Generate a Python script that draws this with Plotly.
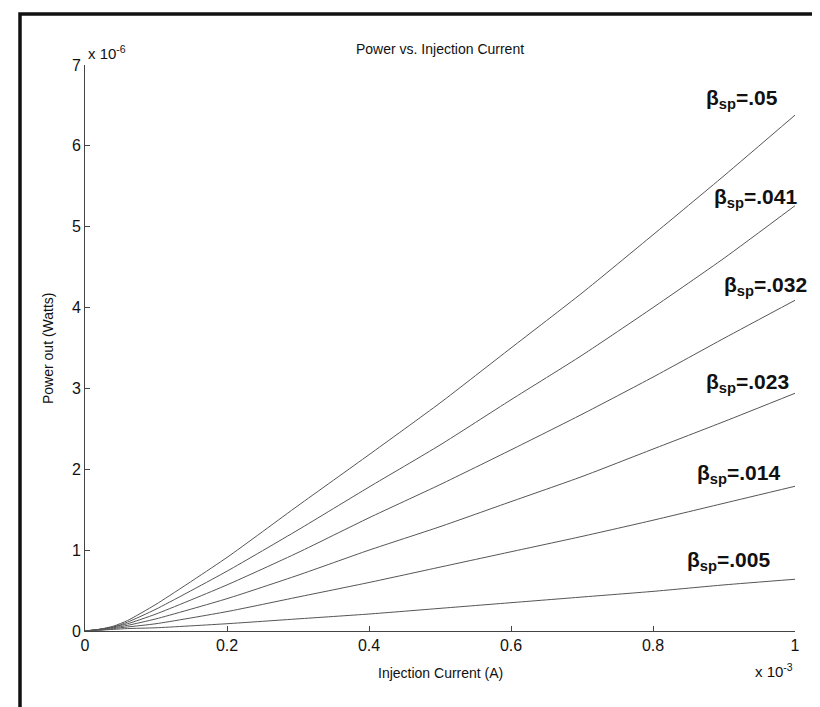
import plotly.graph_objects as go

# Injection current (units of 1e-3 A)
current = [0, 0.02, 0.04, 0.06, 0.1, 0.2, 0.3, 0.4, 0.5, 0.6, 0.7, 0.8, 0.9, 1.0]

# Power out (units of 1e-6 W) per beta_sp
beta_labels = [".05", ".041", ".032", ".023", ".014", ".005"]
power_b050 = [0, 0.02, 0.06, 0.13, 0.33, 0.91, 1.55, 2.18, 2.82, 3.50, 4.18, 4.90, 5.63, 6.38]
power_b041 = [0, 0.02, 0.05, 0.11, 0.27, 0.74, 1.25, 1.78, 2.30, 2.86, 3.41, 4.00, 4.61, 5.26]
power_b032 = [0, 0.02, 0.05, 0.09, 0.21, 0.57, 0.97, 1.40, 1.81, 2.24, 2.68, 3.14, 3.62, 4.09]
power_b023 = [0, 0.02, 0.04, 0.07, 0.15, 0.40, 0.69, 1.00, 1.29, 1.60, 1.91, 2.25, 2.59, 2.94]
power_b014 = [0, 0.01, 0.03, 0.05, 0.09, 0.24, 0.42, 0.60, 0.79, 0.98, 1.17, 1.37, 1.58, 1.79]
power_b005 = [0, 0.01, 0.02, 0.03, 0.04, 0.09, 0.15, 0.21, 0.28, 0.35, 0.42, 0.49, 0.57, 0.64]
series = [power_b050, power_b041, power_b032, power_b023, power_b014, power_b005]

x_ticks = [0, 0.2, 0.4, 0.6, 0.8, 1]
x_tick_text = ["0", "0.2", "0.4", "0.6", "0.8", "1"]
y_ticks = [0, 1, 2, 3, 4, 5, 6, 7]

# label positions (data coords)
label_pos = [(0.925, 6.58), (0.944, 5.35), (0.959, 4.27), (0.933, 3.07), (0.921, 1.94), (0.907, 0.87)]

FONT = "Liberation Sans, Arial, sans-serif"

fig = go.Figure()
for ys in series:
    fig.add_trace(go.Scatter(x=current, y=ys, mode="lines",
                             line=dict(color="#555555", width=1, shape="spline", smoothing=0.6),
                             showlegend=False, hoverinfo="skip"))

W, H = 820, 707
L, R, T, B = 77, 33, 57, 84
pw, ph = W - L - R, H - T - B

def px2paper(px, py):
    return (px - L) / pw, (H - B - py) / ph

anns = []
for lab, (lx, ly) in zip(beta_labels, label_pos):
    anns.append(dict(x=lx, y=ly, xref="x", yref="y", showarrow=False,
                     xanchor="center", yanchor="middle",
                     text="<b>β<sub>sp</sub>=" + lab + "</b>",
                     font=dict(family=FONT, size=21, color="#111111")))

def paper_text(px, py, text, size, xanchor="center", angle=0):
    x, y = px2paper(px, py)
    return dict(x=x, y=y, xref="paper", yref="paper", showarrow=False,
                xanchor=xanchor, yanchor="middle", textangle=angle, text=text,
                font=dict(family=FONT, size=size, color="#111"))

anns.append(paper_text(432, 41, "Power vs. Injection Current", 14))
anns.append(paper_text(432, 665, "Injection Current (A)", 14))
anns.append(paper_text(40, 340, "Power out (Watts)", 14, angle=-90))
anns.append(paper_text(78, 44, "x 10<sup>-6</sup>", 15, xanchor="left"))
anns.append(paper_text(787, 662, "x 10<sup>-3</sup>", 15, xanchor="right"))

bx0, by0 = px2paper(12, 703)
bx1, by1 = px2paper(824, 6)

fig.update_layout(
    width=W, height=H,
    margin=dict(l=L, r=R, t=T, b=B),
    paper_bgcolor="white", plot_bgcolor="white",
    font=dict(family=FONT, size=16, color="#111"),
    annotations=anns,
    shapes=[dict(type="rect", xref="paper", yref="paper", x0=bx0, y0=by0, x1=bx1, y1=by1,
                 line=dict(color="#111", width=3.5), layer="above")],
    xaxis=dict(range=[0, 1], tickvals=x_ticks, ticktext=x_tick_text, ticks="inside", ticklen=5,
               tickcolor="#444", showline=True, linecolor="#444", linewidth=1, showgrid=False,
               zeroline=False, tickfont=dict(size=16, family=FONT, color="#111"), fixedrange=True),
    yaxis=dict(range=[0, 7], tickvals=y_ticks, ticks="inside", ticklen=5,
               tickcolor="#444", showline=True, linecolor="#444", linewidth=1, showgrid=False,
               zeroline=False, tickfont=dict(size=16, family=FONT, color="#111"), fixedrange=True),
)

fig.write_html("out.html")
